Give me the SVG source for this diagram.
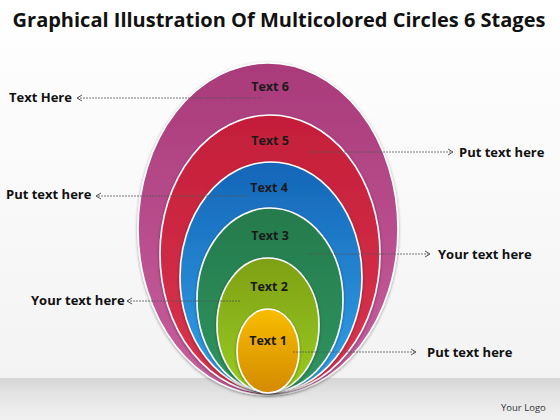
<svg xmlns="http://www.w3.org/2000/svg" width="560" height="420" viewBox="0 0 560 420">
<defs>
<linearGradient id="bg" x1="0" y1="0" x2="0" y2="1"><stop offset="0" stop-color="#ffffff"/><stop offset="0.85" stop-color="#f4f4f4"/><stop offset="1" stop-color="#eeeeee"/></linearGradient>
<linearGradient id="floor" x1="0" y1="0" x2="0" y2="1"><stop offset="0" stop-color="#d6d6d6"/><stop offset="0.4" stop-color="#e4e4e4"/><stop offset="1" stop-color="#f1f1f1"/></linearGradient>
<linearGradient id="g6" x1="0" y1="0" x2="0" y2="1"><stop offset="0" stop-color="#a93a7a"/><stop offset="1" stop-color="#c8609e"/></linearGradient>
<linearGradient id="g5" x1="0" y1="0" x2="0" y2="1"><stop offset="0" stop-color="#c41e3a"/><stop offset="1" stop-color="#d9364e"/></linearGradient>
<linearGradient id="g4" x1="0" y1="0" x2="0" y2="1"><stop offset="0" stop-color="#1565b8"/><stop offset="1" stop-color="#33a3e8"/></linearGradient>
<linearGradient id="g3" x1="0" y1="0" x2="0" y2="1"><stop offset="0" stop-color="#257a4c"/><stop offset="1" stop-color="#2f9560"/></linearGradient>
<linearGradient id="g2" x1="0" y1="0" x2="0" y2="1"><stop offset="0" stop-color="#7fa018"/><stop offset="1" stop-color="#98cc1c"/></linearGradient>
<linearGradient id="g1" x1="0" y1="0" x2="0" y2="1"><stop offset="0" stop-color="#f8bd00"/><stop offset="1" stop-color="#d38a06"/></linearGradient>
<filter id="sh" x="-10%" y="-10%" width="120%" height="120%"><feDropShadow dx="0" dy="1" stdDeviation="1.5" flood-color="#000" flood-opacity="0.4"/></filter>
<marker id="arr" viewBox="0 0 8 8" refX="7" refY="4" markerWidth="8" markerHeight="8" markerUnits="userSpaceOnUse" orient="auto"><polyline points="2,1 7,4 2,7" fill="none" stroke="#555" stroke-width="1"/></marker>
<style>
.ring{stroke:#ffffff;stroke-width:1.6;filter:url(#sh)}
.lbl{font-family:"Open Sans","Liberation Sans",sans-serif;font-weight:bold;font-size:12.5px;fill:#1a1a1a;text-anchor:middle}
.cap{font-family:"Open Sans","Liberation Sans",sans-serif;font-weight:bold;font-size:13px;fill:#111}
.con{stroke:#555;stroke-width:0.8;stroke-dasharray:2 1;fill:none;marker-end:url(#arr)}
</style>
</defs>
<rect width="560" height="420" fill="url(#bg)"/>
<rect x="0" y="378" width="560" height="42" fill="url(#floor)"/>
<text x="279" y="27" text-anchor="middle" font-family="'Open Sans','Liberation Sans',sans-serif" font-weight="bold" font-size="20" fill="#111">Graphical Illustration Of Multicolored Circles 6 Stages</text>
<g id="stage6"><ellipse class="ring" cx="268" cy="229" rx="130" ry="166" fill="url(#g6)"/><text class="lbl" x="270" y="91">Text 6</text></g>
<g id="stage5"><ellipse class="ring" cx="270" cy="254" rx="110" ry="139" fill="url(#g5)"/><text class="lbl" x="270" y="145">Text 5</text></g>
<g id="stage4"><ellipse class="ring" cx="271" cy="277" rx="91" ry="115" fill="url(#g4)"/><text class="lbl" x="269" y="192">Text 4</text></g>
<g id="stage3"><ellipse class="ring" cx="270" cy="300" rx="73" ry="92" fill="url(#g3)"/><text class="lbl" x="270" y="240">Text 3</text></g>
<g id="stage2"><ellipse class="ring" cx="268" cy="325" rx="51" ry="67" fill="url(#g2)"/><text class="lbl" x="269" y="291">Text 2</text></g>
<g id="stage1"><ellipse class="ring" cx="268" cy="351" rx="31" ry="42" fill="url(#g1)"/><text class="lbl" x="268" y="345">Text 1</text></g>
<g id="connectors">
<line class="con" x1="262" y1="98" x2="77" y2="98"/>
<line class="con" x1="308" y1="152" x2="453" y2="152"/>
<line class="con" x1="247" y1="196" x2="96" y2="196"/>
<line class="con" x1="307" y1="254" x2="430" y2="254"/>
<line class="con" x1="240" y1="301" x2="127" y2="301"/>
<line class="con" x1="293" y1="352" x2="416" y2="352"/>
</g>
<g id="captions">
<text class="cap" x="9" y="102">Text Here</text>
<text class="cap" x="459" y="157">Put text here</text>
<text class="cap" x="6" y="199">Put text here</text>
<text class="cap" x="438" y="259">Your text here</text>
<text class="cap" x="31" y="305">Your text here</text>
<text class="cap" x="427" y="357">Put text here</text>
</g>
<text x="501" y="411" font-family="'Open Sans','Liberation Sans',sans-serif" font-size="9.5" fill="#333">Your Logo</text>
</svg>
